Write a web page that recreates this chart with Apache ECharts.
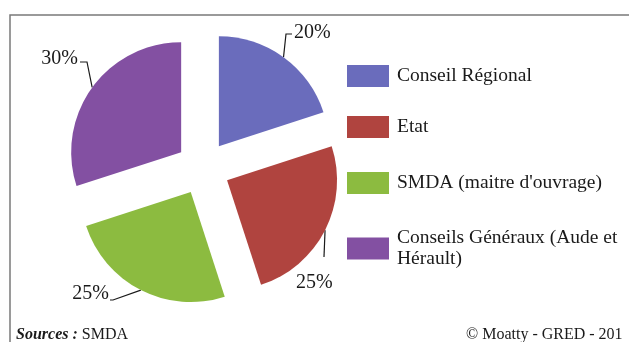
<!DOCTYPE html>
<html>
<head>
<meta charset="utf-8">
<style>
  html, body { margin: 0; padding: 0; background: #fff; }
  #chart { width: 629px; height: 342px; }
</style>
<script src="https://cdn.jsdelivr.net/npm/echarts@6/dist/echarts.min.js"></script>
</head>
<body>
<div id="chart"></div>
<script>
// Funding shares of the project
const categories = ['Conseil Régional', 'Etat', 'SMDA (maitre d\'ouvrage)', 'Conseils Généraux (Aude et Hérault)'];
const legendLabels = ['Conseil Régional', 'Etat', 'SMDA (maitre d\'ouvrage)', 'Conseils Généraux (Aude et\nHérault)'];
const shares = [20, 25, 25, 30];
const colors = ['#6a6cbc', '#b0443f', '#8cbb40', '#8350a2'];

const FONT = '"Liberation Serif", "Times New Roman", serif';

// Pie geometry
const CENTER = [203, 168];
const RADIUS = 110;
const EXPLODE = 27;

// Where each percentage label sits and how its leader line bends
const labelPlacement = [
  { x: 294, y: 33, align: 'left',  bend: [[286, 34], [292, 34]] },
  { x: 296, y: 283, align: 'left', bend: [[324, 257], [324, 257]] },
  { x: 109, y: 294, align: 'right', bend: [[113, 300], [110, 300]] },
  { x: 78,  y: 59, align: 'right', bend: [[87, 62], [80, 62]] }
];
const legendTops = [65, 116, 172, 225];

// Mid-angle of each slice (clockwise from 12 o'clock), derived from the shares
const total = shares.reduce((a, b) => a + b, 0);
const midAngles = [];
shares.reduce((acc, v) => { midAngles.push((acc + v / 2) / total * 2 * Math.PI); return acc + v; }, 0);

// Point on the outer arc of an exploded slice, at its mid-angle
function arcAnchor(i) {
  const a = midAngles[i];
  const r = RADIUS + EXPLODE;
  return [CENTER[0] + r * Math.sin(a), CENTER[1] - r * Math.cos(a)];
}

const chart = echarts.init(document.getElementById('chart'), null, { renderer: 'canvas' });

const legends = categories.map((name, i) => {
  const twoLines = legendLabels[i].indexOf('\n') >= 0;
  return {
    data: [name],
    left: 347,
    top: legendTops[i],
    padding: 0,
    orient: 'vertical',
    icon: 'rect',
    itemWidth: 42,
    itemHeight: 22,
    selectedMode: false,
    formatter: () => legendLabels[i],
    textStyle: {
      fontFamily: FONT,
      fontSize: 19.5,
      color: '#1a1a1a',
      lineHeight: twoLines ? 21 : 22,
      padding: twoLines ? [5, 0, 0, 3] : [0, 0, 0, 3]
    }
  };
});

const pieData = categories.map((name, i) => ({ name, value: shares[i] }));

chart.setOption({
  animation: false,
  backgroundColor: '#ffffff',
  color: colors,
  legend: legends,
  graphic: [
    {
      type: 'rect',
      shape: { x: 10, y: 15, width: 700, height: 400 },
      style: { fill: 'none', stroke: '#7a7a7a', lineWidth: 1.5 },
      silent: true
    },
    {
      type: 'text',
      left: 16,
      top: 327,
      style: {
        text: '{b|Sources :} SMDA',
        font: '16px ' + FONT,
        fill: '#1a1a1a',
        rich: {
          b: { fontFamily: FONT, fontSize: 16, fontWeight: 'bold', fontStyle: 'italic', fill: '#1a1a1a' }
        }
      }
    },
    {
      type: 'text',
      left: 466,
      top: 327,
      style: {
        text: '© Moatty - GRED - 201',
        font: '16px ' + FONT,
        fill: '#1a1a1a'
      }
    }
  ],
  series: [
    {
      // exploded slices
      type: 'pie',
      center: CENTER,
      radius: RADIUS,
      startAngle: 90,
      clockwise: true,
      selectedMode: 'multiple',
      selectedOffset: EXPLODE,
      emphasis: { disabled: true },
      label: { show: false },
      labelLine: { show: false },
      data: pieData.map(d => Object.assign({ selected: true }, d))
    },
    {
      // percentage labels with their leader lines
      type: 'pie',
      center: CENTER,
      radius: RADIUS,
      startAngle: 90,
      clockwise: true,
      silent: true,
      legendHoverLink: false,
      emphasis: { disabled: true },
      itemStyle: { color: 'rgba(0,0,0,0)' },
      data: pieData,
      label: {
        show: true,
        position: 'outside',
        formatter: p => p.value + '%',
        fontFamily: FONT,
        fontSize: 20,
        color: '#1a1a1a'
      },
      labelLine: {
        show: true,
        length: 10,
        length2: 10,
        lineStyle: { color: '#1a1a1a', width: 1.2 }
      },
      labelLayout: params => {
        const p = labelPlacement[params.dataIndex];
        return {
          x: p.x,
          y: p.y,
          align: p.align,
          verticalAlign: 'middle',
          labelLinePoints: [arcAnchor(params.dataIndex), p.bend[0], p.bend[1]]
        };
      }
    }
  ]
});
</script>
</body>
</html>
